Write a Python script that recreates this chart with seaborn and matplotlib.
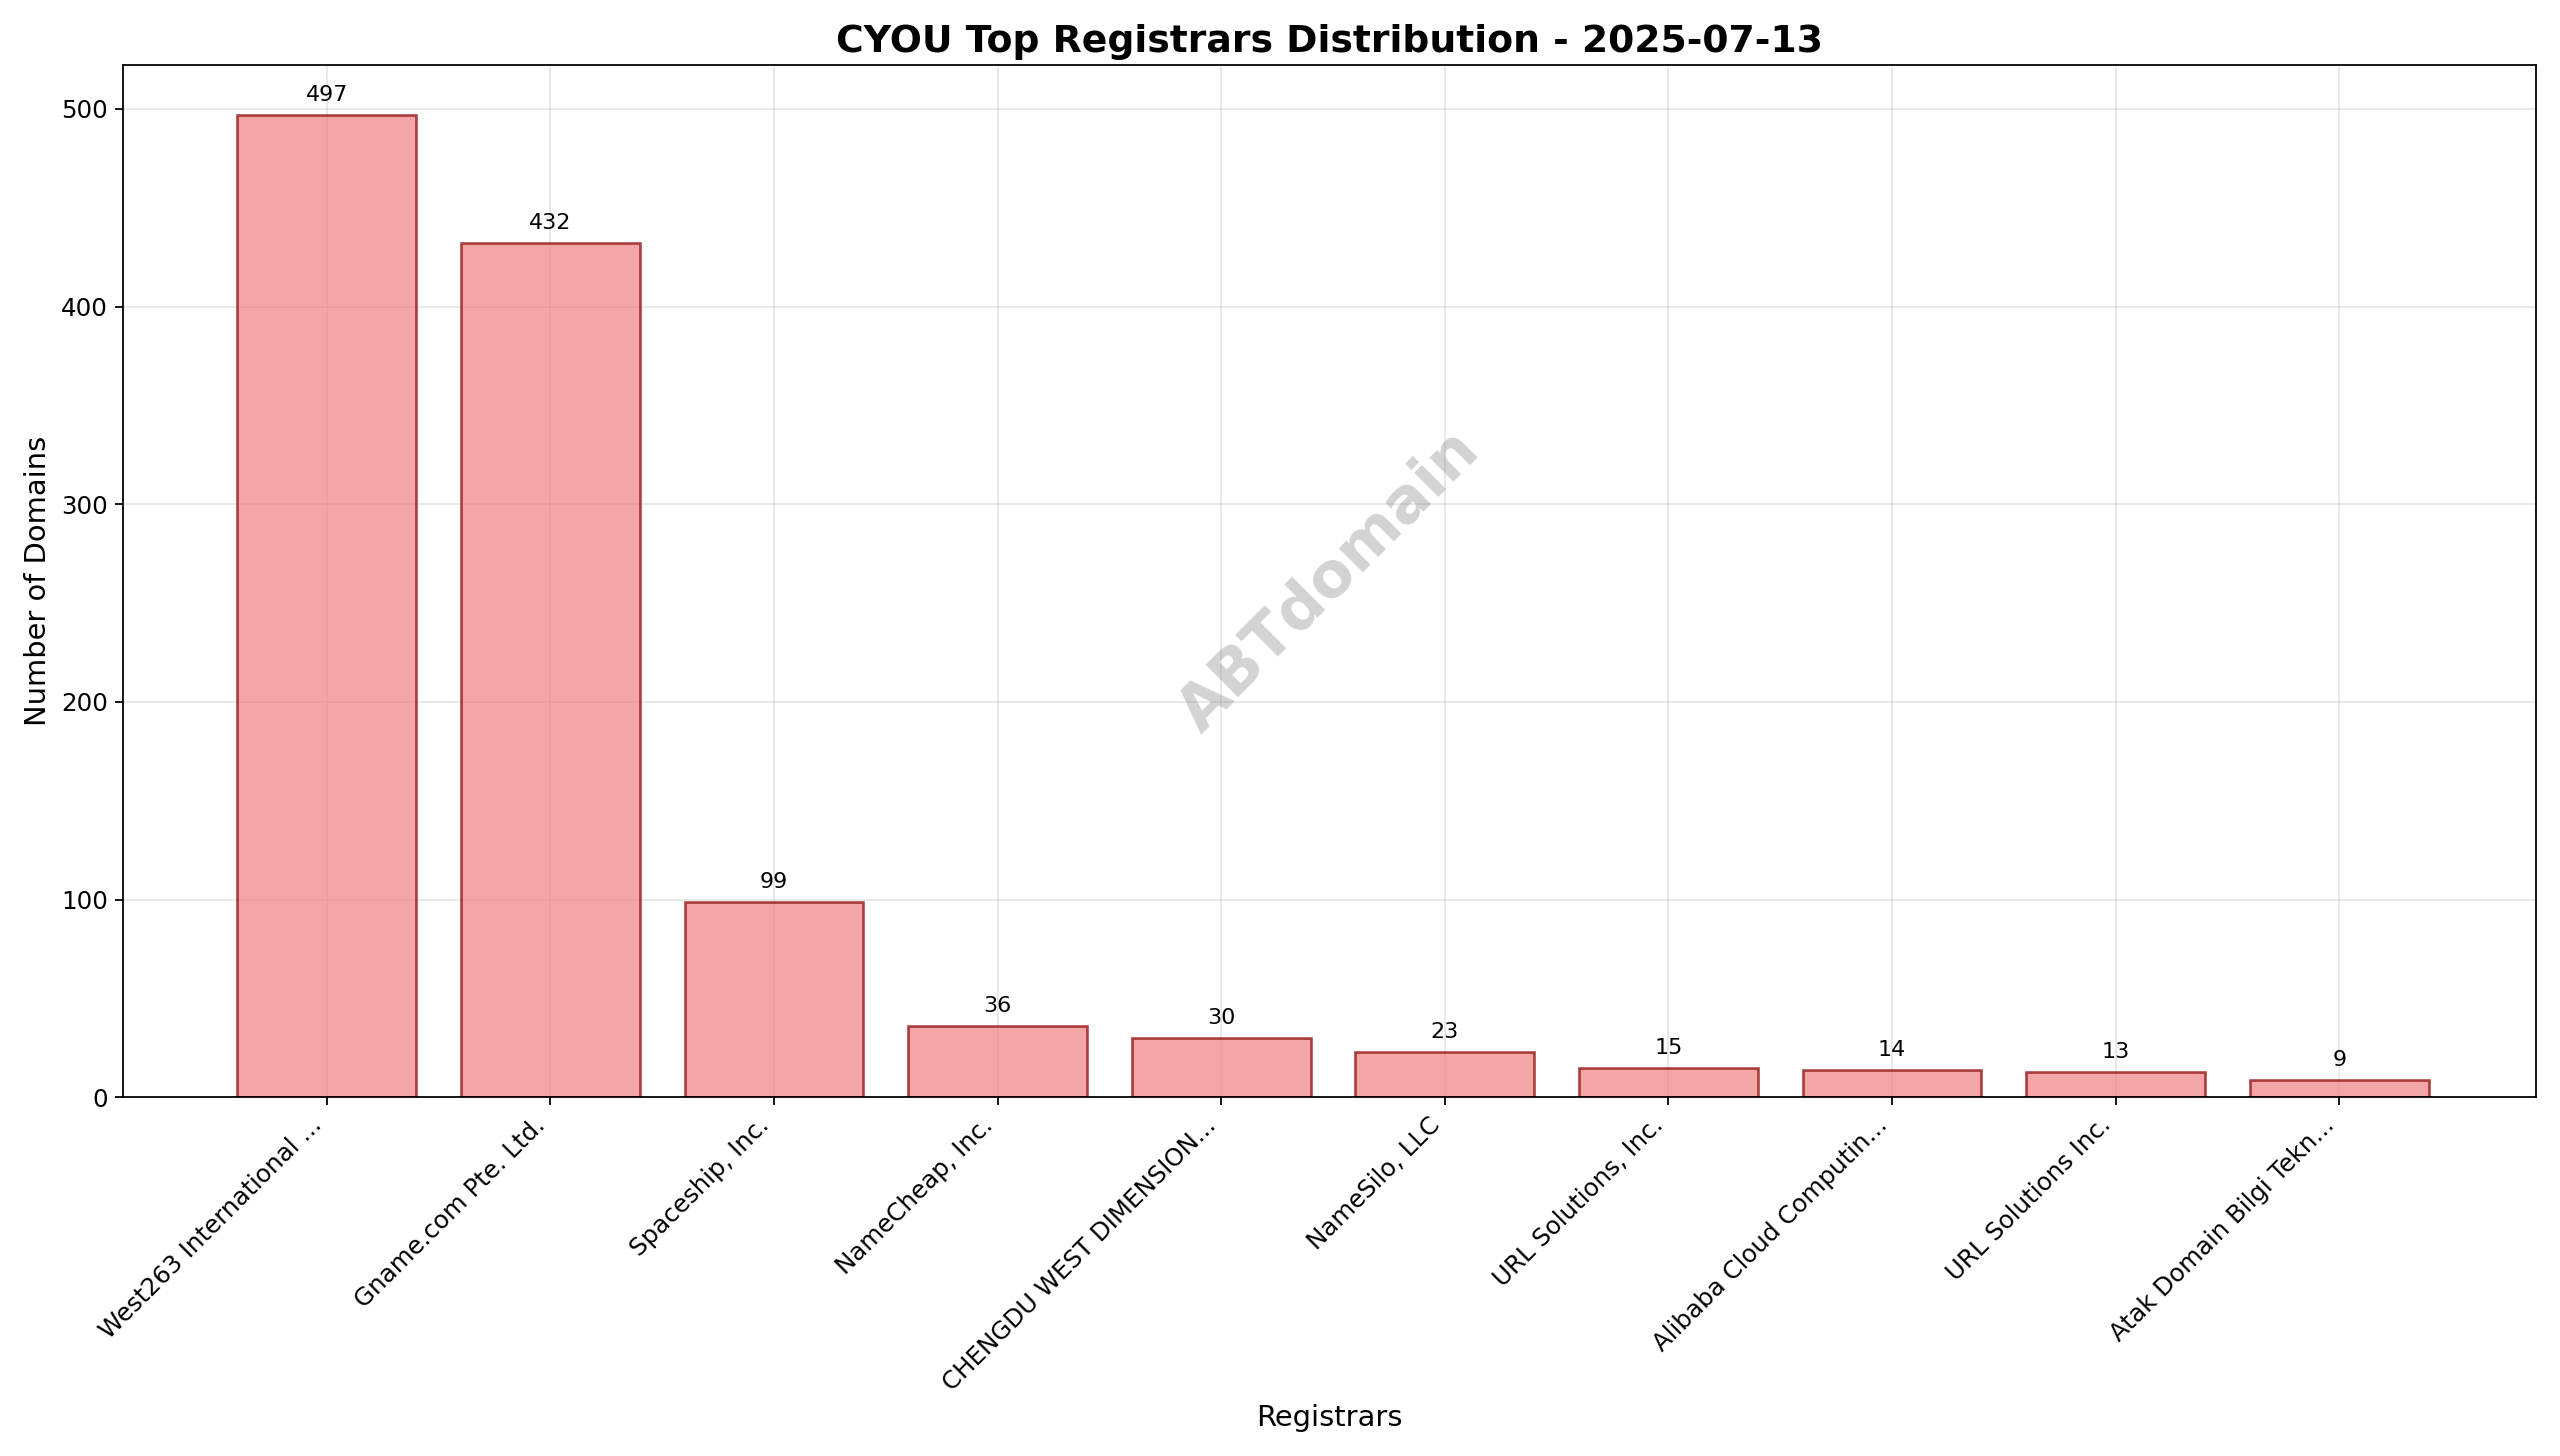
import matplotlib
matplotlib.use("Agg")
import matplotlib.pyplot as plt
import seaborn as sns
import pandas as pd

registrars = ["West263 International ...", "Gname.com Pte. Ltd.", "Spaceship, Inc.",
              "NameCheap, Inc.", "CHENGDU WEST DIMENSION...", "NameSilo, LLC",
              "URL Solutions, Inc.", "Alibaba Cloud Computin...", "URL Solutions Inc.",
              "Atak Domain Bilgi Tekn..."]
counts = [497, 432, 99, 36, 30, 23, 15, 14, 13, 9]

df = pd.DataFrame({"registrar": registrars, "count": counts})

fig, ax = plt.subplots(figsize=(16, 9.1), dpi=160)
sns.barplot(data=df, x="registrar", y="count", color="lightcoral", alpha=0.7,
            saturation=1, edgecolor="darkred", linewidth=1.2, width=0.8, ax=ax, zorder=2)

for i, v in enumerate(counts):
    ax.text(i, v + 5, str(v), ha="center", va="bottom", fontsize=10)

ax.set_title("CYOU Top Registrars Distribution - 2025-07-13", fontsize=17, fontweight="bold")
ax.set_xlabel("Registrars", fontsize=13)
ax.set_ylabel("Number of Domains", fontsize=13)
ax.set_ylim(0, 522)
ax.set_xlim(-0.91, 9.88)
ax.tick_params(labelsize=11)
plt.setp(ax.get_xticklabels(), rotation=45, ha="right")
ax.grid(True, alpha=0.3, zorder=0)
ax.set_axisbelow(True)

ax.text(0.5, 0.5, "ABTdomain", transform=ax.transAxes, fontsize=28, color="gray",
        alpha=0.35, fontweight="bold", rotation=45, ha="center", va="center")

plt.tight_layout()
plt.savefig("out.png", dpi=160)
